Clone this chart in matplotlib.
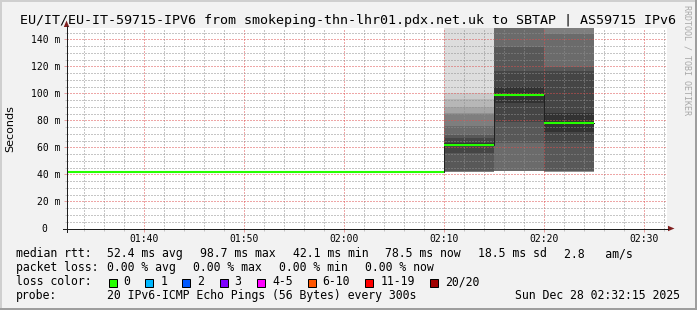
import matplotlib
matplotlib.use("Agg")
import matplotlib.pyplot as plt
import matplotlib.dates as mdates
from matplotlib.lines import Line2D
from matplotlib.patches import Polygon, Rectangle
from matplotlib.ticker import MultipleLocator, NullFormatter
from matplotlib.transforms import blended_transform_factory, ScaledTranslation
from datetime import datetime, timedelta

W, H = 697, 310
DPI = 100
MONO = "DejaVu Sans Mono"

title = "EU/IT/EU-IT-59715-IPV6 from smokeping-thn-lhr01.pdx.net.uk to SBTAP | AS59715 IPv6"
day = "2025-12-28"
graph_start = "01:32:15"
graph_end = "02:32:15"
step_min = 5

# median rtt per 5 minute step (ms)
bin_start = ["01:30", "01:35", "01:40", "01:45", "01:50", "01:55",
             "02:00", "02:05", "02:10", "02:15", "02:20"]
median_ms = [42.1, 42.1, 42.1, 42.1, 42.1, 42.1, 42.1, 42.1, 62.2, 98.7, 78.5]

# sorted ping times (ms) for the steps that have smoke
smoke_start = ["02:10", "02:15", "02:20"]
pings_0210 = [42.0, 42.0, 42.1, 42.1, 42.2, 42.2, 42.3, 42.4, 55.6, 61.4,
              63.0, 66.7, 69.6, 76.0, 84.5, 85.2, 90.1, 95.8, 100.0, 171.0]
pings_0215 = [42.3, 42.4, 42.4, 42.5, 42.5, 42.6, 42.7, 63.0, 79.0, 92.6,
              104.8, 117.0, 134.5, 155.0, 163.0, 171.0, 185.0, 204.0, 233.0, 281.0]
pings_0220 = [42.0, 42.1, 42.1, 42.2, 42.2, 42.3, 42.3, 42.4, 63.0, 71.6,
              85.4, 117.0, 119.7, 144.4, 152.0, 158.0, 166.0, 178.0, 197.0, 226.0]
smoke_pings = [pings_0210, pings_0215, pings_0220]

y_ticks = [0, 20, 40, 60, 80, 100, 120, 140]
y_tick_labels = ["0", "20 m", "40 m", "60 m", "80 m", "100 m", "120 m", "140 m"]
y_max = 148.5

rtt_row = ["52.4 ms avg", "98.7 ms max", "42.1 ms min", "78.5 ms now",
           "18.5 ms sd", "2.8   am/s"]
loss_row = ["0.00 % avg", "0.00 % max", "0.00 % min", "0.00 % now"]
loss_labels = ["0", "1", "2", "3", "4-5", "6-10", "11-19", "20/20"]
loss_colors = ["#26ff00", "#00b8ff", "#0059ff", "#7e00ff",
               "#ff00ff", "#ff5500", "#ff0000", "#a00000"]
probe_text = "20 IPv6-ICMP Echo Pings (56 Bytes) every 300s"
stamp_text = "Sun Dec 28 02:32:15 2025"


def t(hm):
    fmt = "%Y-%m-%d %H:%M:%S" if hm.count(":") == 2 else "%Y-%m-%d %H:%M"
    return datetime.strptime(day + " " + hm, fmt)


def fx(x):
    return x / W


def fy(y):
    return 1 - y / H


fig = plt.figure(figsize=(W / DPI, H / DPI), dpi=DPI, facecolor="#f2f2f2")

# plot area in pixels
left, right, top, bottom = 66.5, 666.5, 28.0, 228.5
ax = fig.add_axes([fx(left), fy(bottom), (right - left) / W, (bottom - top) / H])
ax.set_facecolor("white")
ax.set_xlim(t(graph_start), t(graph_end))
ax.set_ylim(0, y_max)
for s in ax.spines.values():
    s.set_visible(False)

# smoke: band between ping i and ping n+1-i, darker towards the median
for start, pings in zip(smoke_start, smoke_pings):
    p = sorted(pings)
    n = len(p)
    half = n / 2
    t0 = t(start)
    t1 = t0 + timedelta(minutes=step_min)
    for i in range(1, n // 2 + 1):
        g = int(190 / half * (half - i)) + 50
        col = "#%02x%02x%02x" % (g, g, g)
        ax.fill_between([t0, t1], p[i - 1], p[n - i], color=col, lw=0,
                        antialiased=False, zorder=1)

# median
starts = [t(s) for s in bin_start]
ends = [s + timedelta(minutes=step_min) for s in starts]
ax.plot(starts + [ends[-1]], median_ms + [median_ms[-1]], drawstyle="steps-post",
        color="#202020", lw=0.72, zorder=2)
ax.hlines(median_ms, starts, ends, color=loss_colors[0], lw=1.5, zorder=3)

# grid
ax.set_axisbelow("line")
ax.xaxis.set_major_locator(mdates.MinuteLocator(byminute=range(0, 60, 10)))
ax.xaxis.set_minor_locator(mdates.MinuteLocator(byminute=range(0, 60, 2)))
ax.xaxis.set_major_formatter(mdates.DateFormatter("%H:%M"))
ax.yaxis.set_major_locator(MultipleLocator(20))
ax.yaxis.set_minor_locator(MultipleLocator(5))
ax.yaxis.set_major_formatter(NullFormatter())
major_col = (0.87, 0.31, 0.31, 0.5)
minor_col = (0.56, 0.56, 0.56, 0.45)
ax.grid(which="major", color=major_col, lw=0.72, ls=(0, (1, 2)))
ax.grid(which="minor", color=minor_col, lw=0.72, ls=(0, (1, 2)))
ax.tick_params(which="major", direction="out", length=2.2, width=0.72,
               color=major_col, pad=2.0, labelsize=7)
ax.tick_params(which="minor", direction="out", length=1.4, width=0.72,
               color=minor_col)
for lab in ax.get_xticklabels():
    lab.set_family(MONO)

# y tick labels, right aligned left of the axis
ytrans = blended_transform_factory(fig.transFigure, ax.transData) + \
    ScaledTranslation(0, -3.8 / DPI, fig.dpi_scale_trans)
for v, lab in zip(y_ticks, y_tick_labels):
    xr = 60.5 if lab != "0" else 47.5
    fig.text(fx(xr), v, lab, transform=ytrans, ha="right", va="baseline",
             fontsize=7, family=MONO)

# axes lines with arrows
axis_col = "#1f1f1f"
arrow_col = "#801f1f"
fig.add_artist(Line2D([fx(62.5), fx(668)], [fy(bottom), fy(bottom)], color=axis_col, lw=0.72))
fig.add_artist(Line2D([fx(left), fx(left)], [fy(232), fy(26)], color=axis_col, lw=0.72))
fig.add_artist(Polygon([(fx(668), fy(225.8)), (fx(674.5), fy(bottom)), (fx(668), fy(231.2))],
                       closed=True, color=arrow_col, lw=0))
fig.add_artist(Polygon([(fx(63.8), fy(27)), (fx(left), fy(20.5)), (fx(69.2), fy(27))],
                       closed=True, color=arrow_col, lw=0))

# title, axis label, watermark
fig.text(fx(20), fy(24.3), title, ha="left", va="baseline", fontsize=9.6, family=MONO)
fig.text(fx(10.5), fy(128.3), "Seconds", rotation=90, ha="center", va="center",
         fontsize=8, family="DejaVu Sans")
fig.text(fx(687), fy(5), "RRDTOOL / TOBI OETIKER", rotation=270, ha="center", va="top",
         fontsize=6, family=MONO, color="#a8a8a8")

# legend rows
lfs = 8.3
fig.text(fx(16), fy(257.3), "median rtt:", fontsize=lfs, family=MONO, va="baseline")
for x, s in zip([107.3, 200, 292.7, 385, 478.3, 564.4], rtt_row):
    fig.text(fx(x), fy(257.3), s, fontsize=lfs, family=MONO, va="baseline")

fig.text(fx(16), fy(271.3), "packet loss:", fontsize=lfs, family=MONO, va="baseline")
for x, s in zip([107.3, 193.3, 279, 365], loss_row):
    fig.text(fx(x), fy(271.3), s, fontsize=lfs, family=MONO, va="baseline")

fig.text(fx(16), fy(285.3), "loss color:", fontsize=lfs, family=MONO, va="baseline")
for x, lab, col in zip([108.5, 145.3, 182.2, 219.6, 257, 307.6, 365.3, 430.2],
                       loss_labels, loss_colors):
    fig.add_artist(Rectangle((fx(x), fy(286.5)), 8 / W, 8 / H, facecolor=col,
                             edgecolor="black", lw=0.72))
    fig.text(fx(x + 15), fy(285.3), lab, fontsize=lfs, family=MONO, va="baseline")

fig.text(fx(16), fy(299.3), "probe:", fontsize=lfs, family=MONO, va="baseline")
fig.text(fx(107.3), fy(299.3), probe_text, fontsize=lfs, family=MONO, va="baseline")
fig.text(fx(680), fy(299.3), stamp_text, fontsize=lfs, family=MONO, va="baseline", ha="right")

# shaded frame
fig.add_artist(Rectangle((0, fy(2)), 1, 2 / H, color="#cfcfcf", lw=0))
fig.add_artist(Rectangle((0, 0), 2 / W, 1, color="#cfcfcf", lw=0))
fig.add_artist(Rectangle((0, 0), 1, 2 / H, color="#9e9e9e", lw=0))
fig.add_artist(Rectangle((fx(W - 2), 0), 2 / W, 1, color="#9e9e9e", lw=0))

fig.savefig("out.png", dpi=DPI, facecolor=fig.get_facecolor())
